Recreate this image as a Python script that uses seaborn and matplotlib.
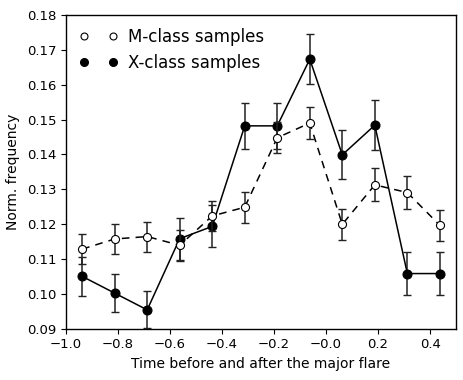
import numpy as np
import pandas as pd
import matplotlib
matplotlib.use("Agg")
import matplotlib.pyplot as plt
import seaborn as sns
from matplotlib.lines import Line2D

time_bins = [-0.9375, -0.8125, -0.6875, -0.5625, -0.4375, -0.3125,
             -0.1875, -0.0625, 0.0625, 0.1875, 0.3125, 0.4375]
m_freq = [0.1129, 0.1158, 0.1165, 0.1140, 0.1224, 0.1249,
          0.1448, 0.1490, 0.1200, 0.1313, 0.1291, 0.1197]
m_err = [0.0043, 0.0044, 0.0043, 0.0044, 0.0043, 0.0045,
         0.0045, 0.0047, 0.0045, 0.0047, 0.0047, 0.0044]
x_freq = [0.1051, 0.1003, 0.0955, 0.1159, 0.1194, 0.1482,
          0.1482, 0.1673, 0.1399, 0.1484, 0.1059, 0.1059]
x_err = [0.0056, 0.0055, 0.0053, 0.0060, 0.0060, 0.0066,
         0.0066, 0.0072, 0.0070, 0.0072, 0.0062, 0.0062]
labels = ["M-class samples", "X-class samples"]

df = pd.DataFrame({
    "t": time_bins * 2,
    "freq": m_freq + x_freq,
    "err": m_err + x_err,
    "cls": [labels[0]] * len(time_bins) + [labels[1]] * len(time_bins),
})

sns.set_style("ticks")
plt.rcParams["font.family"] = ["DejaVu Sans"]
plt.rcParams["text.color"] = "black"
plt.rcParams["axes.labelcolor"] = "black"

fig = plt.figure(figsize=(4.64, 3.8), dpi=100)
ax = fig.add_axes([0.142, 0.134, 0.841, 0.827])

dx = df[df.cls == labels[1]]
dm = df[df.cls == labels[0]]

ax.errorbar(dx.t, dx.freq, yerr=dx.err, fmt="none", ecolor="#222222",
            elinewidth=1.1, capsize=3.2, capthick=1.0, zorder=2)
sns.lineplot(data=dx, x="t", y="freq", color="black", lw=1.1,
             marker="o", markersize=6.5, markerfacecolor="black",
             markeredgecolor="black", ax=ax, legend=False, zorder=3)
ax.errorbar(dm.t, dm.freq, yerr=dm.err, fmt="none", ecolor="#222222",
            elinewidth=1.1, capsize=3.2, capthick=1.0, zorder=4)
sns.lineplot(data=dm, x="t", y="freq", color="black", lw=1.1,
             marker="o", markersize=5.8, markerfacecolor="white",
             markeredgecolor="black", markeredgewidth=0.8, ax=ax,
             legend=False, zorder=5)
ax.lines[-1].set_dashes([5, 4])

ax.set_xlim(-1.0, 0.5)
ax.set_ylim(0.09, 0.18)
xt = np.arange(-1.0, 0.41, 0.2)
yt = np.arange(0.09, 0.1801, 0.01)
ax.set_xticks(xt)
ax.set_yticks(yt)
ax.set_xticklabels([f"{v:.1f}".replace("-", "\u2212") for v in xt])
ax.set_yticklabels([f"{v:.2f}" for v in yt])
ax.tick_params(direction="out", length=3.5, width=0.8, labelsize=9.5,
               colors="black", pad=3)
for s in ax.spines.values():
    s.set_visible(True)
    s.set_linewidth(1.0)
    s.set_color("black")
ax.set_xlabel("Time before and after the major flare", fontsize=10, labelpad=4)
ax.set_ylabel("Norm. frequency", fontsize=10, labelpad=5)

handles = [
    Line2D([], [], ls="", marker="o", markersize=5, markerfacecolor="white",
           markeredgecolor="black", markeredgewidth=0.8),
    Line2D([], [], ls="", marker="o", markersize=5.5, markerfacecolor="black",
           markeredgecolor="black"),
]
leg = ax.legend(handles, labels, loc="upper left", numpoints=2, frameon=False,
                fontsize=12, handletextpad=0.6, borderaxespad=0.5,
                labelspacing=0.45, handlelength=2.3, borderpad=0.3)

fig.savefig("out.png", dpi=100)
